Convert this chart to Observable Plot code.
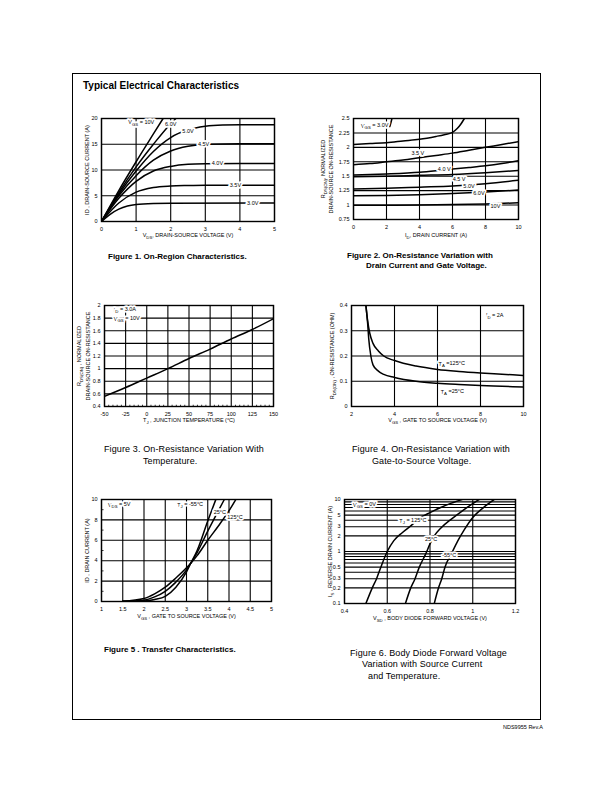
<!DOCTYPE html>
<html><head><meta charset="utf-8">
<script src="https://cdn.jsdelivr.net/npm/d3@7"></script>
<script src="https://cdn.jsdelivr.net/npm/@observablehq/plot@0.6"></script>
<style>
html,body{margin:0;padding:0;background:#fff;}
#page{position:relative;width:612px;height:792px;overflow:hidden;font-family:"Liberation Sans",Arial,Helvetica,sans-serif;color:#000;}
.t{position:absolute;white-space:nowrap;line-height:1;}
#frame{position:absolute;left:72px;top:73px;width:469px;height:647px;border:1.3px solid #000;box-sizing:border-box;}
.title{font-weight:bold;font-size:10px;}
.capb{font-weight:bold;font-size:8px;}
.capn{font-size:9px;letter-spacing:0.12px;}
.foot{font-size:5.5px;}
</style></head>
<body><div id="page"><div id="frame"></div></div>
<script>
// ---------- Figure 1: On-Region Characteristics (VDS [V], ID [A]) ----------
const fig1_vgs10 = [[0,0],[0.5,6],[1,11.6],[1.5,17],[1.78,20]];
const fig1_vgs6  = [[0,0],[0.5,5.6],[1,10.6],[1.5,15],[2,19],[2.15,20]];
const fig1_vgs5  = [[0,0],[0.5,5.3],[1,9.8],[1.5,13.6],[2,16.3],[2.5,17.8],[3,18.5],[3.5,18.75],[4,18.8],[5,18.8]];
const fig1_vgs45 = [[0,0],[0.5,5],[1,8.9],[1.5,11.9],[2,13.7],[2.5,14.6],[3,15],[4,15.1],[5,15.1]];
const fig1_vgs4  = [[0,0],[0.5,4.5],[1,7.8],[1.5,9.8],[2,10.7],[2.5,11.1],[3,11.2],[4,11.25],[5,11.25]];
const fig1_vgs35 = [[0,0],[0.5,3.6],[1,5.7],[1.5,6.6],[2,6.9],[2.5,7.0],[3,7.05],[5,7.05]];
const fig1_vgs3  = [[0,0],[0.25,1.4],[0.5,2.4],[0.75,3.0],[1,3.3],[1.5,3.5],[2,3.55],[5,3.6]];
const fig1_labels = [
  {x:1.15,y:19.2,text:"V_{GS} = 10V"},{x:2.0,y:18.8,text:"6.0V"},{x:2.5,y:17.5,text:"5.0V"},
  {x:2.95,y:15.1,text:"4.5V"},{x:3.35,y:11.25,text:"4.0V"},{x:3.87,y:7.05,text:"3.5V"},{x:4.37,y:3.6,text:"3.0V"}];
const fig1_xTicks = [0,1,2,3,4,5];
const fig1_yTicks = [0,5,10,15,20];

// ---------- Figure 2: normalized RDS(on) vs ID ----------
const fig2_vgs3  = [[0,2.05],[1,2.065],[2,2.08],[3,2.11],[4,2.14],[5,2.19],[5.5,2.22],[6,2.26],[6.3,2.33],[6.5,2.4],[6.72,2.5]];
const fig2_vgs3_tail = [[2.2,2.36],[2.27,2.43],[2.33,2.5]];
const fig2_vgs35 = [[0,1.70],[1,1.72],[2,1.75],[3,1.78],[4,1.82],[5,1.86],[6,1.9],[7,1.95],[8,2.0],[9,2.05],[10,2.1]];
const fig2_vgs4  = [[0,1.52],[2,1.54],[4,1.57],[5.5,1.61],[7,1.65],[8,1.68],[9,1.72],[10,1.77]];
const fig2_vgs45 = [[0,1.49],[2,1.5],[4,1.515],[6,1.53],[8,1.56],[10,1.6]];
const fig2_vgs5  = [[0,1.28],[2,1.29],[4,1.31],[6,1.33],[8,1.37],[10,1.43]];
const fig2_vgs6  = [[0,1.16],[2,1.165],[4,1.18],[6,1.2],[8,1.225],[10,1.26]];
const fig2_vgs10 = [[0,0.995],[2,0.997],[4,1.0],[6,1.008],[8,1.02],[10,1.04]];
const fig2_labels = [
  {x:0.45,y:2.37,text:"V_{GS} = 3.0V",anchor:"start"},{x:3.9,y:1.89,text:"3.5 V"},{x:5.5,y:1.62,text:"4.0 V"},
  {x:6.4,y:1.45,text:"4.5 V"},{x:7.0,y:1.33,text:"5.0V"},{x:7.6,y:1.21,text:"6.0V"},{x:8.6,y:0.975,text:"10V"}];
const fig2_xTicks = [0,2,4,6,8,10];
const fig2_yTicks = [0.75,1,1.25,1.5,1.75,2,2.25,2.5];

// ---------- Figure 3: normalized RDS(on) vs junction temperature ----------
const fig3_temp = [-50,-25,0,25,50,75,100,125,150];
const fig3_rds  = [0.56,0.70,0.85,1.0,1.16,1.31,1.47,1.62,1.79];
const fig3_labels = [{x:-39,y:1.93,text:"I_{D} = 3.0A",anchor:"start"},{x:-39,y:1.79,text:"V_{GS} = 10V",anchor:"start"}];
const fig3_xTicks = [-50,-25,0,25,50,75,100,125,150];
const fig3_yTicks = [0.4,0.6,0.8,1,1.2,1.4,1.6,1.8,2];
const fig3_minorX = d3.range(-45,150,5).filter(v => v % 25 !== 0);

// ---------- Figure 4: RDS(on) vs VGS ----------
const fig4_ta25  = [[2.67,0.4],[2.75,0.33],[2.8,0.27],[2.9,0.2],[3.0,0.165],[3.25,0.14],[3.5,0.127],[4,0.115],[5,0.1],[6,0.092],[7,0.087],[8,0.083],[9,0.08],[10,0.077]];
const fig4_ta125 = [[2.67,0.4],[2.75,0.34],[2.85,0.29],[3,0.25],[3.25,0.22],[3.5,0.2],[4,0.182],[5,0.16],[6,0.147],[7,0.139],[8,0.133],[9,0.128],[10,0.123]];
const fig4_labels = [{x:8.25,y:0.36,text:"I_{D} = 2A",anchor:"start"},{x:6.05,y:0.169,text:"T_{A} =125°C",anchor:"start"},{x:6.15,y:0.057,text:"T_{A} =25°C",anchor:"start"}];
const fig4_xTicks = [2,4,6,8,10];
const fig4_yTicks = [0,0.1,0.2,0.3,0.4];

// ---------- Figure 5: transfer characteristics ----------
const fig5_tjm55 = [[1.5,0.02],[2,0.06],[2.25,0.2],[2.5,0.5],[2.75,1.4],[3,2.9],[3.1,3.75],[3.25,5.0],[3.5,7.9],[3.69,10]];
const fig5_tj25  = [[1.5,0.02],[2,0.13],[2.25,0.45],[2.5,1.0],[2.75,1.9],[3,3.1],[3.1,3.75],[3.25,4.8],[3.5,6.9],[3.75,8.9],[3.89,10]];
const fig5_tj125 = [[1.5,0.03],[2,0.3],[2.25,0.75],[2.5,1.4],[2.75,2.3],[3,3.3],[3.1,3.75],[3.25,4.5],[3.5,6.0],[3.75,7.4],[4,8.9],[4.16,10]];
const fig5_labels = [{x:1.15,y:9.45,text:"V_{DS} = 5V",anchor:"start"},{x:2.78,y:9.45,text:"T_{J} = -55°C",anchor:"start"},
  {x:3.64,y:8.8,text:"25°C",anchor:"start"},{x:3.96,y:8.3,text:"125°C",anchor:"start"}];
const fig5_xTicks = [1,1.5,2,2.5,3,3.5,4,4.5,5];
const fig5_yTicks = [0,2,4,6,8,10];
const fig5_minorY = [1,3,5,7,9];

// ---------- Figure 6: body diode forward voltage ----------
const fig6_tj125 = [[0.5,0.1],[0.53,0.2],[0.55,0.3],[0.57,0.5],[0.6,1.0],[0.63,1.6],[0.67,2.3],[0.71,3.1],[0.75,4.3],[0.8,5.6],[0.85,7],[0.9,8.5],[0.95,10]];
const fig6_tj25  = [[0.685,0.1],[0.71,0.2],[0.73,0.3],[0.75,0.5],[0.78,0.9],[0.8,1.4],[0.82,2.0],[0.85,2.8],[0.9,4.2],[0.95,6.0],[1.0,8.3],[1.03,10]];
const fig6_tjm55 = [[0.82,0.1],[0.84,0.2],[0.855,0.3],[0.87,0.5],[0.9,0.9],[0.93,1.6],[0.96,2.6],[1.0,4.5],[1.05,7],[1.1,10]];
const fig6_labels = [{x:0.44,y:7.8,text:"V_{GS} = 0V",anchor:"start"},{x:0.72,y:3.9,text:"T_{J} = 125°C"},
  {x:0.805,y:1.7,text:"25°C"},{x:0.89,y:0.85,text:"-55°C"}];
const fig6_xTicks = [0.4,0.6,0.8,1,1.2];
const fig6_yTicks = [0.1,0.2,0.3,0.5,1,2,3,5,10];
const fig6_yGrid  = [0.1,0.2,0.3,0.4,0.5,0.6,0.7,0.8,0.9,1,2,3,4,5,6,7,8,9,10];

// ---------- helpers ----------
const FONT = '"Liberation Sans", Arial, Helvetica, sans-serif';
const page = document.getElementById("page");

function applySubs(root) {
  root.querySelectorAll("text, tspan").forEach(el => {
    if (el.children.length) return;
    const s = el.textContent;
    if (!s.includes("_{")) return;
    el.textContent = "";
    const ns = "http://www.w3.org/2000/svg";
    const re = /_\{([^}]*)\}/g; let last = 0, m, shifted = false;
    const add = (str, sub) => {
      const t = document.createElementNS(ns, "tspan");
      t.textContent = str;
      if (sub) { t.setAttribute("dy", "0.35em"); t.setAttribute("font-size", "78%"); shifted = true; }
      else if (shifted) { t.setAttribute("dy", "-0.35em"); shifted = false; }
      el.appendChild(t);
    };
    while ((m = re.exec(s))) {
      if (m.index > last) add(s.slice(last, m.index), false);
      add(m[1], true);
      last = re.lastIndex;
    }
    if (last < s.length) add(s.slice(last), false);
  });
}

function makeChart(cfg) {
  const [x0, x1, y0, y1] = cfg.box;
  const ML = 50, MR = 12, MT = 12, MB = 32;
  const fs = 5.5;
  const marks = [
    Plot.gridX({ticks: cfg.xGrid || cfg.xTicks, stroke: "#000", strokeOpacity: 1, strokeWidth: 1.1}),
    Plot.gridY({ticks: cfg.yGrid || cfg.yTicks, stroke: "#000", strokeOpacity: 1, strokeWidth: 1.1}),
    ...(cfg.extra || []),
    Plot.frame({stroke: "#000", strokeWidth: 1.4}),
    Plot.axisX({ticks: cfg.xTicks, tickSize: 0, tickPadding: 6, tickFormat: d => String(d), label: null, fontSize: fs}),
    Plot.axisY({ticks: cfg.yTicks, tickSize: 0, tickPadding: 4, tickFormat: d => String(d), label: null, fontSize: fs}),
    ...cfg.series.map(s => Plot.line(s, {x: d => d[0], y: d => d[1], stroke: "#000", strokeWidth: 1.5, curve: "monotone-x", clip: true})),
    Plot.text(cfg.labels.filter(d => d.anchor !== "start"), {x: "x", y: "y", text: "text", fontSize: fs, fill: "#000", stroke: "#fff", strokeWidth: 3.5, textAnchor: "middle"}),
    Plot.text(cfg.labels.filter(d => d.anchor === "start"), {x: "x", y: "y", text: "text", fontSize: fs, fill: "#000", stroke: "#fff", strokeWidth: 3.5, textAnchor: "start"}),
    Plot.text([cfg.xLabel.text], {frameAnchor: "bottom", dy: cfg.xLabel.y - y1, dx: cfg.xLabel.dx || 0, text: d => d, fontSize: fs, textAnchor: "middle", lineAnchor: "middle"}),
    ...cfg.yLabels.map(l => Plot.text([l.text], {frameAnchor: "left", dx: l.x - x0, dy: l.dy || 0, rotate: -90, text: d => d, fontSize: fs, textAnchor: "middle", lineAnchor: "middle"}))
  ];
  const svg = Plot.plot({
    width: x1 - x0 + ML + MR, height: y1 - y0 + MT + MB,
    marginLeft: ML, marginRight: MR, marginTop: MT, marginBottom: MB,
    x: {domain: cfg.xDomain, label: null},
    y: {domain: cfg.yDomain, type: cfg.yType || "linear", label: null},
    style: {fontFamily: FONT, fontSize: fs + "px", background: "transparent", overflow: "visible", color: "#000"},
    marks
  });
  applySubs(svg);
  const d = document.createElement("div");
  d.style.cssText = `position:absolute;left:${x0 - ML}px;top:${y0 - MT}px;`;
  d.appendChild(svg);
  page.appendChild(d);
}

function html(text, left, top, cls) {
  const d = document.createElement("div");
  d.className = "t " + cls;
  d.style.left = left + "px"; d.style.top = top + "px";
  d.textContent = text;
  page.appendChild(d);
}

// ---------- build ----------
html("Typical Electrical Characteristics", 83, 81, "title");

makeChart({box: [101, 274, 118, 221], xDomain: [0, 5], yDomain: [0, 20],
  xTicks: fig1_xTicks, yTicks: fig1_yTicks,
  series: [fig1_vgs10, fig1_vgs6, fig1_vgs5, fig1_vgs45, fig1_vgs4, fig1_vgs35, fig1_vgs3],
  labels: fig1_labels,
  xLabel: {text: "V_{DS}, DRAIN-SOURCE VOLTAGE (V)", y: 235},
  yLabels: [{text: "ID , DRAIN-SOURCE CURRENT (A)", x: 87}]});
html("Figure 1. On-Region Characteristics.", 108, 253, "capb");

makeChart({box: [353, 518, 118, 219], xDomain: [0, 10], yDomain: [0.75, 2.5],
  xTicks: fig2_xTicks, yTicks: fig2_yTicks,
  series: [fig2_vgs3, fig2_vgs3_tail, fig2_vgs35, fig2_vgs4, fig2_vgs45, fig2_vgs5, fig2_vgs6, fig2_vgs10],
  labels: fig2_labels,
  xLabel: {text: "I_{D}, DRAIN CURRENT (A)", y: 235},
  yLabels: [{text: "R_{DS(ON)}, NORMALIZED", x: 323}, {text: "DRAIN-SOURCE ON-RESISTANCE", x: 331}]});
html("Figure 2. On-Resistance Variation with", 347, 252, "capb");
html("Drain  Current and Gate Voltage.", 366, 262, "capb");

makeChart({box: [104, 273, 305, 406], xDomain: [-50, 150], yDomain: [0.4, 2],
  xTicks: fig3_xTicks, yTicks: fig3_yTicks,
  series: [fig3_temp.map((t, i) => [t, fig3_rds[i]])],
  labels: fig3_labels,
  extra: [Plot.ruleX(fig3_minorX, {x: d => d, y1: 0.4, y2: 0.42, stroke: "#000", strokeWidth: 0.8})],
  xLabel: {text: "T_{J} , JUNCTION TEMPERATURE (°C)", y: 420},
  yLabels: [{text: "R_{DS(ON)} , NORMALIZED", x: 79}, {text: "DRAIN-SOURCE ON-RESISTANCE", x: 88}]});
html("Figure 3. On-Resistance Variation With", 104, 445, "capn");
html("Temperature.", 143, 457, "capn");

makeChart({box: [351, 523, 305, 406], xDomain: [2, 10], yDomain: [0, 0.4],
  xTicks: fig4_xTicks, yTicks: fig4_yTicks,
  series: [fig4_ta25, fig4_ta125],
  labels: fig4_labels,
  xLabel: {text: "V_{GS} , GATE TO SOURCE VOLTAGE (V)", y: 420},
  yLabels: [{text: "R_{DS(ON)} , ON-RESISTANCE (OHM)", x: 332}]});
html("Figure 4. On-Resistance Variation with", 352, 445, "capn");
html("Gate-to-Source Voltage.", 372, 457, "capn");

makeChart({box: [101, 271, 499, 601], xDomain: [1, 5], yDomain: [0, 10],
  xTicks: fig5_xTicks, yTicks: fig5_yTicks,
  series: [fig5_tjm55, fig5_tj25, fig5_tj125],
  labels: fig5_labels,
  extra: [Plot.ruleY(fig5_minorY, {y: d => d, x1: 1, x2: 1.06, stroke: "#000", strokeWidth: 0.8})],
  xLabel: {text: "V_{GS} , GATE TO SOURCE VOLTAGE (V)", y: 616},
  yLabels: [{text: "ID , DRAIN CURRENT (A)", x: 87}]});
html("Figure  5 . Transfer Characteristics.", 104, 646, "capb");

makeChart({box: [344, 515, 499, 603], xDomain: [0.4, 1.2], yDomain: [0.1, 10], yType: "log",
  xTicks: fig6_xTicks, yTicks: fig6_yTicks, xGrid: fig6_xTicks, yGrid: fig6_yGrid,
  series: [fig6_tj125, fig6_tj25, fig6_tjm55],
  labels: fig6_labels,
  xLabel: {text: "V_{SD} , BODY DIODE FORWARD VOLTAGE (V)", y: 618},
  yLabels: [{text: "I_{S} , REVERSE DRAIN CURRENT (A)", x: 330}]});
html("Figure 6. Body Diode Forward Voltage", 350, 649, "capn");
html("Variation with Source Current", 362, 660, "capn");
html("and Temperature.", 368, 672, "capn");

html("NDS9955 Rev.A", 503, 725, "foot");
</script></body></html>
